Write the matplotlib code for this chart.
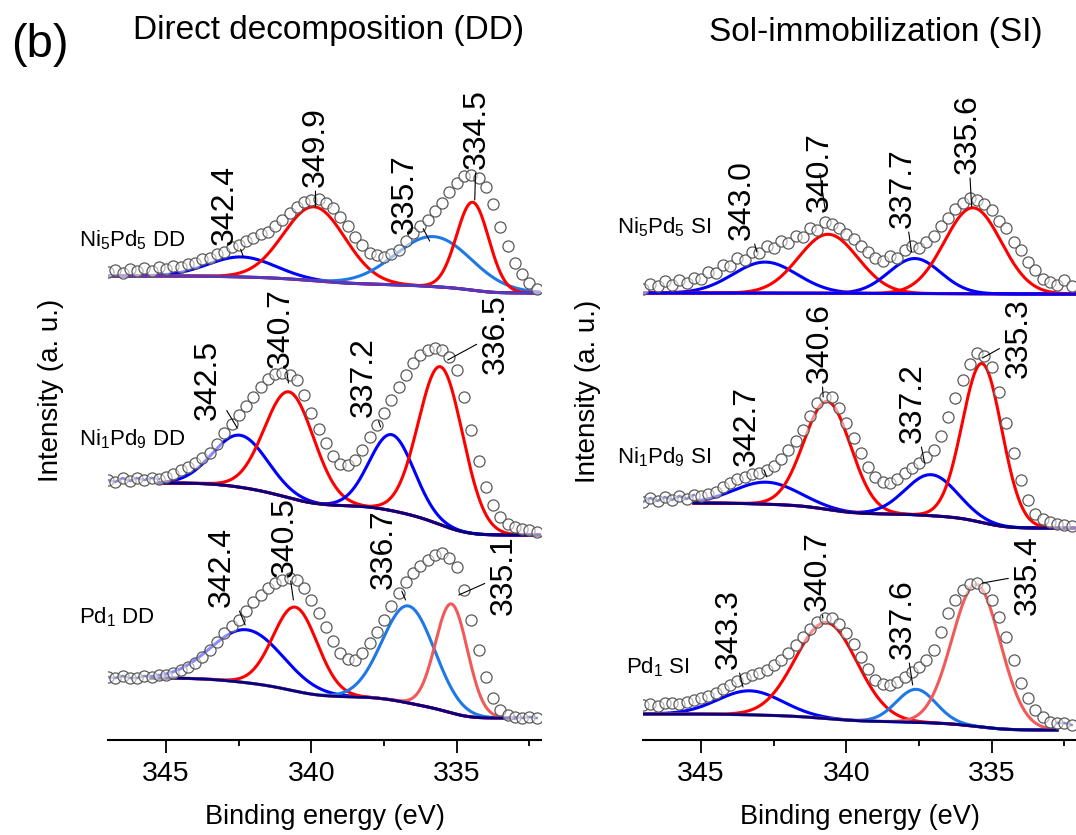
import numpy as np
import matplotlib.pyplot as plt

plt.rcParams['font.family'] = ['Liberation Sans', 'DejaVu Sans']
plt.rcParams['mathtext.fontset'] = 'custom'
plt.rcParams['mathtext.rm'] = 'Liberation Sans'

# binding energy of the measured points (eV), 347.0 ... 332.25
energy = np.arange(347.0, 332.1, -0.25)

# measured Pd 3d intensity (a. u.), each relative to its own low-BE baseline
ni5pd5_dd = [21, 23, 20, 24, 22, 25, 22, 26, 24, 27, 26, 29, 30, 34, 35, 39, 41, 46, 48, 52,
             55, 59, 61, 67, 73, 80, 86, 91, 93, 94, 90, 85, 76, 67, 56, 48, 40, 38, 36, 39,
             43, 52, 60, 67, 73, 82, 90, 101, 110, 117, 118, 115, 106, 89, 66, 47, 30, 19, 10, 4]
ni1pd9_dd = [55, 53, 57, 54, 57, 55, 57, 56, 58, 61, 65, 68, 72, 77, 82, 91, 102, 111, 120, 129,
             138, 148, 156, 161, 162, 160, 155, 140, 122, 106, 92, 79, 71, 70, 75, 85, 98, 110, 122, 135,
             148, 160, 172, 180, 185, 187, 185, 178, 165, 138, 105, 74, 48, 30, 18, 11, 8, 6, 5, 3]
pd1_dd = [41, 40, 42, 40, 40, 42, 41, 43, 43, 45, 48, 51, 55, 61, 68, 76, 85, 92, 98, 107,
          116, 123, 130, 135, 138, 140, 138, 130, 118, 105, 91, 77, 65, 59, 58, 65, 75, 86, 98, 112,
          125, 136, 145, 152, 158, 163, 165, 160, 151, 128, 98, 68, 41, 20, 8, 3, 1, 0, 1, 0]
ni5pd5_si = [5, 10, 8, 13, 9, 14, 11, 16, 15, 22, 21, 29, 28, 36, 34, 42, 41, 48, 46, 53,
             51, 58, 57, 66, 64, 72, 70, 66, 60, 55, 48, 42, 36, 33, 38, 36, 44, 48, 46, 52,
             58, 68, 76, 85, 91, 96, 94, 90, 84, 73, 66, 52, 44, 32, 24, 15, 12, 9, 14, 8]
ni1pd9_si = [26, 30, 27, 31, 28, 32, 29, 33, 32, 34, 36, 41, 45, 49, 51, 54, 55, 58, 62, 69,
             78, 87, 98, 112, 125, 131, 131, 120, 105, 90, 75, 61, 51, 46, 45, 49, 55, 60, 65, 71,
             78, 92, 111, 130, 148, 164, 175, 172, 161, 136, 105, 75, 48, 28, 14, 9, 6, 4, 3, 2]
pd1_si = [25, 26, 24, 27, 27, 26, 28, 30, 32, 34, 37, 41, 45, 49, 52, 55, 57, 60, 65, 70,
          77, 85, 93, 101, 108, 112, 112, 106, 97, 86, 73, 61, 50, 46, 45, 48, 53, 58, 63, 70,
          80, 98, 117, 130, 140, 146, 147, 142, 130, 113, 93, 70, 47, 32, 20, 13, 8, 7, 7, 5]

# fitted components: (centre eV, height, FWHM eV)
ni5pd5_dd_fit = [(342.4, 20, 2.7), (339.9, 74, 2.5), (335.8, 50, 3.1), (334.45, 88, 1.3)]
ni1pd9_dd_fit = [(342.45, 52, 2.2), (340.76, 106, 2.0), (337.24, 76, 1.8), (335.55, 158, 1.8)]
pd1_dd_fit = [(342.22, 53, 2.9), (340.55, 84, 1.8), (336.66, 97, 2.1), (335.18, 109, 1.3)]
ni5pd5_si_fit = [(342.8, 31, 2.6), (340.63, 59, 2.4), (337.65, 35, 2.1), (335.65, 86, 2.3)]
ni1pd9_si_fit = [(342.75, 22, 2.6), (340.65, 108, 1.9), (337.08, 41, 2.1), (335.33, 159, 1.6)]
pd1_si_fit = [(343.32, 24, 2.6), (340.69, 96, 2.5), (337.6, 33, 1.6), (335.53, 142, 1.95)]

# Shirley background step (high-BE side level)
bg_step = {'ni5pd5_dd': 17, 'ni1pd9_dd': 52, 'pd1_dd': 40,
           'ni5pd5_si': 1, 'ni1pd9_si': 25, 'pd1_si': 16}

peak_labels = {
    'ni5pd5_dd': ['342.4', '349.9', '335.7', '334.5'],
    'ni1pd9_dd': ['342.5', '340.7', '337.2', '336.5'],
    'pd1_dd': ['342.4', '340.5', '336.7', '335.1'],
    'ni5pd5_si': ['343.0', '340.7', '337.7', '335.6'],
    'ni1pd9_si': ['342.7', '340.6', '337.2', '335.3'],
    'pd1_si': ['343.3', '340.7', '337.6', '335.4'],
}

BLUE, RED, LBLUE, LRED, NAVY = '#0000ff', '#ff0000', '#1e78e6', '#f25a5a', '#000080'


def gauss(e, c, h, w):
    return h * np.exp(-4 * np.log(2) * (e - c) ** 2 / w ** 2)


def shirley(e, comps, step):
    tot = sum(gauss(e, *p) for p in comps)
    cum = np.cumsum(tot[::-1])[::-1]
    return step * cum / cum[0]


def draw(ax, key, y, comps, colors, off, rng, notes, name, name_pos, bg_col=NAVY):
    hi, lo = rng
    e = np.linspace(hi, lo, 600)
    bg = shirley(e, comps, bg_step[key]) + off
    y = np.asarray(y, float) + off
    for p, c in zip(comps, colors):
        ax.plot(e, bg + gauss(e, *p), color=c, lw=2.2, zorder=2)
    ax.plot(e, bg, color=bg_col, lw=2, zorder=2.5)
    # raw data outside the fitted range follows the background
    left = energy >= hi - 1e-6
    right = energy <= lo + 1e-6
    if left.sum() > 1:
        ax.plot(energy[left], y[left], color=NAVY, lw=1.8, zorder=2.5)
    if right.sum() > 1:
        ax.plot(energy[right], y[right], color=NAVY, lw=1.8, zorder=2.5)
    ax.plot(energy, y, 'o', ms=8, mfc=(1, 1, 1, 0.55), mec='#5a5a5a', mew=0.9, zorder=3)
    for t, (tx, ty, px, py) in zip(peak_labels[key], notes):
        ax.annotate(t, xy=(px, py), xytext=(tx, ty), rotation=90, ha='center', va='center',
                    fontsize=23, zorder=5,
                    arrowprops=dict(arrowstyle='-', color='k', lw=0.8, shrinkA=1, shrinkB=0))
    ax.text(name_pos[0], name_pos[1], name, fontsize=16, ha='left', va='center')


fig = plt.figure(figsize=(10.76, 8.35), dpi=100)
ax1 = fig.add_axes([108 / 1076, 95 / 835, 433 / 1076, 680 / 835])
ax2 = fig.add_axes([643 / 1076, 95 / 835, 433 / 1076, 680 / 835])

# left: direct decomposition
draw(ax1, 'ni5pd5_dd', ni5pd5_dd, ni5pd5_dd_fit, [BLUE, RED, LBLUE, RED], 447, (347.0, 332.1),
     [(342.97, 535, 342.34, 483), (339.86, 593, 339.86, 533),
      (336.79, 546, 335.93, 499), (334.31, 611, 334.38, 540)],
     r'Ni$_\mathregular{5}$Pd$_\mathregular{5}$ DD', (348.0, 500), bg_col='#4b3cc8')
draw(ax1, 'ni1pd9_dd', ni1pd9_dd, ni1pd9_dd_fit, [BLUE, RED, BLUE, RED], 205, (345.25, 332.1),
     [(343.55, 360, 342.55, 312), (341.07, 412, 340.79, 357),
      (338.21, 363, 337.62, 313), (333.66, 406, 335.31, 380)],
     r'Ni$_\mathregular{1}$Pd$_\mathregular{9}$ DD', (348.0, 301))
draw(ax1, 'pd1_dd', pd1_dd, pd1_dd_fit, [BLUE, RED, LBLUE, LRED], 22, (345.5, 333.0),
     [(343.10, 173, 342.28, 115), (340.93, 203, 340.62, 140),
      (337.52, 191, 336.76, 140), (333.38, 165, 334.93, 145)],
     r'Pd$_\mathregular{1}$ DD', (348.0, 123))

# right: sol-immobilization
draw(ax2, 'ni5pd5_si', ni5pd5_si, ni5pd5_si_fit, [BLUE, RED, BLUE, RED], 446, (347.0, 332.1),
     [(343.60, 540, 343.08, 488), (340.92, 568, 340.74, 532),
      (338.07, 552, 337.76, 488), (335.83, 606, 335.69, 533)],
     r'Ni$_\mathregular{5}$Pd$_\mathregular{5}$ SI', (347.9, 513), bg_col=BLUE)
draw(ax2, 'ni1pd9_si', ni1pd9_si, ni1pd9_si_fit, [BLUE, RED, BLUE, RED], 212, (345.25, 332.1),
     [(343.43, 314, 342.74, 263), (340.92, 397, 340.80, 343),
      (337.72, 337, 337.31, 277), (334.08, 402, 335.32, 382)],
     r'Ni$_\mathregular{1}$Pd$_\mathregular{9}$ SI', (347.9, 283))
draw(ax2, 'pd1_si', pd1_si, pd1_si_fit, [BLUE, RED, LBLUE, LRED], 10, (347.0, 332.75),
     [(344.04, 111, 343.56, 53), (340.99, 169, 340.81, 122),
      (338.07, 121, 337.72, 55), (333.77, 165, 335.32, 157)],
     r'Pd$_\mathregular{1}$ SI', (347.6, 73))

for ax in (ax1, ax2):
    ax.set_xlim(347, 332.1)
    ax.set_ylim(0, 680)
    for s in ('left', 'right', 'top'):
        ax.spines[s].set_visible(False)
    ax.spines['bottom'].set_linewidth(1.5)
    ax.set_yticks([])
    ax.set_xticks([345, 340, 335])
    ax.set_xticks([342.5, 337.5, 332.5], minor=True)
    ax.tick_params(axis='x', which='major', length=9, width=1.3, labelsize=20.5, pad=6)
    ax.tick_params(axis='x', which='minor', length=4.5, width=1.3)
    ax.set_xlabel('Binding energy (eV)', fontsize=19.5, labelpad=12)
    ax.patch.set_alpha(0)

fig.text(40 / 1076, 1 - 45 / 835, '(b)', fontsize=34, ha='center', va='center')
fig.text(329 / 1076, 1 - 31 / 835, 'Direct decomposition (DD)', fontsize=24, ha='center', va='center')
fig.text(876 / 1076, 1 - 32 / 835, 'Sol-immobilization (SI)', fontsize=24, ha='center', va='center')
fig.text(51 / 1076, 1 - 390 / 835, 'Intensity (a. u.)', fontsize=20, rotation=90, ha='center', va='center')
fig.text(588 / 1076, 1 - 391 / 835, 'Intensity (a. u.)', fontsize=20, rotation=90, ha='center', va='center')

fig.savefig('out.png', dpi=100)
